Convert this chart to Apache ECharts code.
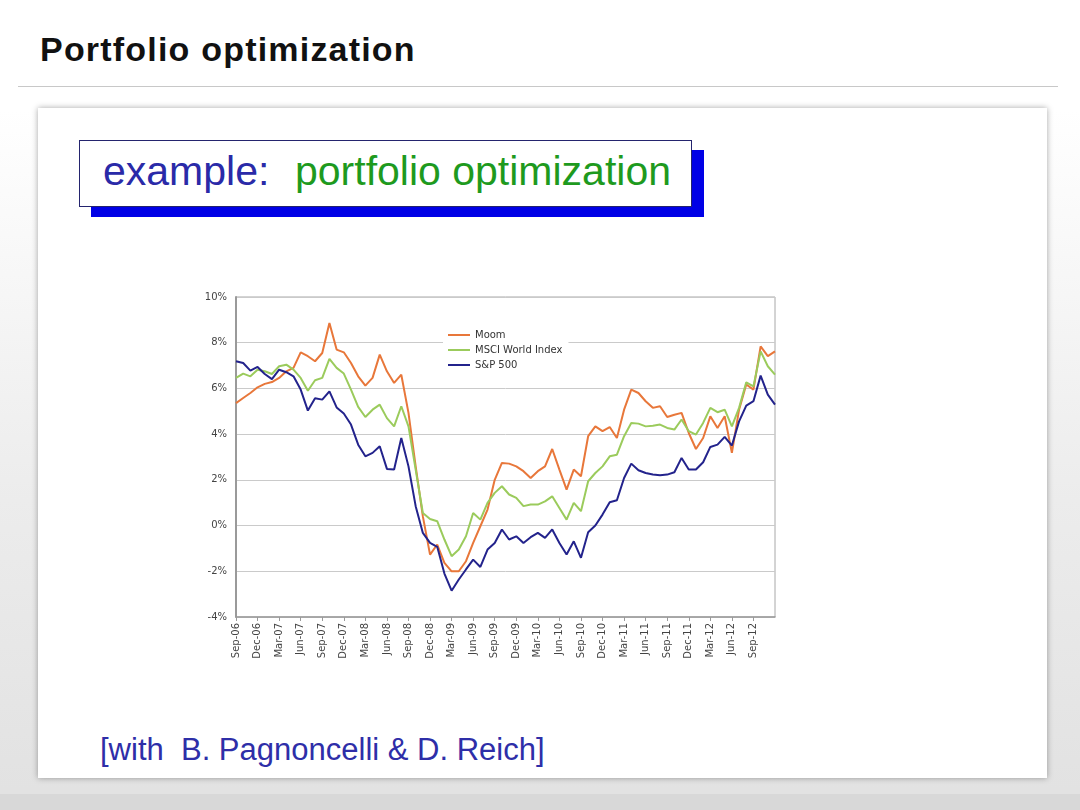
<!DOCTYPE html>
<html>
<head>
<meta charset="utf-8">
<title>Portfolio optimization</title>
<script src="https://cdn.jsdelivr.net/npm/echarts@6/dist/echarts.min.js"></script>
<style>
  html, body { margin: 0; padding: 0; }
  body {
    width: 1080px; height: 810px; overflow: hidden; position: relative;
    background: linear-gradient(to bottom, #ffffff 0px, #ffffff 110px, #ececec 500px, #e2e2e2 790px);
    font-family: 'Liberation Sans', Arial, sans-serif;
  }
  .title {
    position: absolute; left: 40px; top: 32px;
    font-size: 34px; line-height: 34px; font-weight: bold; letter-spacing: 1.2px; color: #111;
  }
  .rule { position: absolute; left: 18px; top: 86px; width: 1040px; height: 1px; background: #c8c8c8; }
  .card {
    position: absolute; left: 38px; top: 108px; width: 1009px; height: 670px;
    background: #fff; box-shadow: 0 0 6px rgba(0, 0, 0, 0.35);
  }
  .banner {
    position: absolute; left: 79px; top: 140px; width: 611px; height: 65px;
    border: 1.5px solid #24246e; background: #fff; box-shadow: 12px 10px 0 #0000e6;
  }
  .banner span { position: absolute; top: 10px; font-size: 41px; line-height: 41px; white-space: nowrap; }
  .footer {
    position: absolute; left: 100px; top: 734px;
    font-size: 31px; line-height: 31px; color: #2e2ea8; white-space: pre;
  }
  .bottom { position: absolute; left: 0; top: 794px; width: 1080px; height: 16px; background: #d8d8d8; }
  #chart { position: absolute; left: 0; top: 0; width: 1080px; height: 810px; }
</style>
</head>
<body>
<div class="title">Portfolio optimization</div>
<div class="rule"></div>
<div class="card"></div>
<div class="bottom"></div>
<div class="banner">
  <span style="left: 23px; color: #2a2aa8;">example:</span>
  <span style="left: 215px; color: #1e9a1e;">portfolio optimization</span>
</div>
<div class="footer">[with  B. Pagnoncelli &amp; D. Reich]</div>
<div id="chart"></div>
<script>
// monthly, Sep-06 .. Dec-12
const categories = [
  'Sep-06', 'Oct-06', 'Nov-06', 'Dec-06',
  'Jan-07', 'Feb-07', 'Mar-07', 'Apr-07', 'May-07', 'Jun-07', 'Jul-07', 'Aug-07', 'Sep-07', 'Oct-07', 'Nov-07', 'Dec-07',
  'Jan-08', 'Feb-08', 'Mar-08', 'Apr-08', 'May-08', 'Jun-08', 'Jul-08', 'Aug-08', 'Sep-08', 'Oct-08', 'Nov-08', 'Dec-08',
  'Jan-09', 'Feb-09', 'Mar-09', 'Apr-09', 'May-09', 'Jun-09', 'Jul-09', 'Aug-09', 'Sep-09', 'Oct-09', 'Nov-09', 'Dec-09',
  'Jan-10', 'Feb-10', 'Mar-10', 'Apr-10', 'May-10', 'Jun-10', 'Jul-10', 'Aug-10', 'Sep-10', 'Oct-10', 'Nov-10', 'Dec-10',
  'Jan-11', 'Feb-11', 'Mar-11', 'Apr-11', 'May-11', 'Jun-11', 'Jul-11', 'Aug-11', 'Sep-11', 'Oct-11', 'Nov-11', 'Dec-11',
  'Jan-12', 'Feb-12', 'Mar-12', 'Apr-12', 'May-12', 'Jun-12', 'Jul-12', 'Aug-12', 'Sep-12', 'Oct-12', 'Nov-12', 'Dec-12'
];

const moom = [
  5.36, 5.58, 5.8, 6.05, 6.2, 6.28, 6.46, 6.75, 6.9, 7.58, 7.41, 7.19, 7.55, 8.86, 7.7, 7.58, 7.11, 6.53, 6.12,
  6.46, 7.48, 6.75, 6.24, 6.6, 4.93, 2.59, 0.4, -1.27, -0.83, -1.63, -2.0, -2.0, -1.56, -0.76, -0.03, 0.7, 2.0, 2.74,
  2.71, 2.59, 2.38, 2.08, 2.38, 2.59, 3.35, 2.45, 1.57, 2.45, 2.16, 3.91, 4.34, 4.13, 4.31, 3.83, 5.07, 5.95, 5.8,
  5.44, 5.15, 5.22, 4.75, 4.85, 4.93, 4.05, 3.35, 3.83, 4.78, 4.27, 4.78, 3.18, 5.07, 6.17, 5.95, 7.84, 7.41, 7.62
];

const msci = [
  6.46, 6.65, 6.53, 6.82, 6.75, 6.63, 6.97, 7.04, 6.82, 6.46, 5.9, 6.36, 6.46, 7.29, 6.9, 6.65, 5.95, 5.19, 4.75,
  5.07, 5.29, 4.7, 4.34, 5.22, 4.34, 2.45, 0.55, 0.29, 0.19, -0.61, -1.34, -1.05, -0.47, 0.55, 0.26, 0.99, 1.43, 1.72,
  1.36, 1.21, 0.85, 0.92, 0.92, 1.06, 1.28, 0.77, 0.26, 0.99, 0.63, 1.94, 2.3, 2.59, 3.03, 3.1, 3.91, 4.49, 4.46,
  4.34, 4.37, 4.42, 4.27, 4.2, 4.64, 4.13, 3.98, 4.49, 5.15, 4.96, 5.07, 4.34, 5.15, 6.27, 6.09, 7.62, 6.97, 6.6
];

const sp500 = [
  7.19, 7.11, 6.78, 6.94, 6.63, 6.41, 6.82, 6.71, 6.53, 5.95, 5.03, 5.57, 5.51, 5.87, 5.17, 4.9, 4.42, 3.54, 3.03,
  3.18, 3.47, 2.48, 2.45, 3.83, 2.59, 0.85, -0.32, -0.76, -0.93, -2.1, -2.85, -2.36, -1.92, -1.49, -1.81, -1.05, -0.76, -0.17,
  -0.61, -0.47, -0.76, -0.51, -0.32, -0.54, -0.17, -0.76, -1.27, -0.69, -1.41, -0.29, 0.0, 0.48, 1.02, 1.11, 2.08, 2.71, 2.42,
  2.3, 2.23, 2.2, 2.23, 2.33, 2.96, 2.45, 2.45, 2.77, 3.44, 3.54, 3.88, 3.5, 4.56, 5.25, 5.44, 6.56, 5.73, 5.29
];

const seriesNames = ['Moom', 'MSCI World Index', 'S&P 500'];
const seriesColors = ['#e8773a', '#9bcb5c', '#23238c'];

// quarterly labels, last month left unlabeled
const showQuarter = (i) => i % 3 === 0 && i < categories.length - 1;

const chart = echarts.init(document.getElementById('chart'));

const makeLine = (name, values, color) => ({
  name: name,
  type: 'line',
  data: values,
  symbol: 'none',
  color: color,
  lineStyle: { color: color, width: 2 },
  animation: false
});

chart.setOption({
  backgroundColor: 'transparent',
  textStyle: { fontFamily: 'DejaVu Sans' },
  grid: {
    left: 236, right: 305, top: 297, bottom: 193,
    show: true, borderColor: '#a8a8a8', borderWidth: 1
  },
  legend: {
    data: seriesNames,
    orient: 'vertical',
    left: 443, top: 324,
    padding: [5, 6, 5, 5],
    backgroundColor: '#ffffff',
    icon: 'rect',
    itemWidth: 22, itemHeight: 2,
    itemGap: 3,
    textStyle: { fontSize: 10, lineHeight: 12, color: '#333', fontFamily: 'DejaVu Sans' }
  },
  xAxis: {
    type: 'category',
    data: categories,
    boundaryGap: false,
    axisLine: { onZero: false, lineStyle: { color: '#9a9a9a', width: 1.5 } },
    axisTick: { interval: showQuarter, length: 4, lineStyle: { color: '#9a9a9a' } },
    axisLabel: {
      interval: showQuarter, rotate: 90, margin: 6,
      fontSize: 10, color: '#444', fontFamily: 'DejaVu Sans'
    },
    splitLine: { show: false }
  },
  yAxis: {
    type: 'value',
    min: -4, max: 10, interval: 2,
    axisLine: { show: true, lineStyle: { color: '#9a9a9a', width: 2 } },
    axisTick: { show: false },
    axisLabel: {
      formatter: '{value}%', margin: 9,
      fontSize: 10, color: '#444', fontFamily: 'DejaVu Sans'
    },
    splitLine: { lineStyle: { color: '#cacaca', width: 1 } }
  },
  series: [
    makeLine(seriesNames[0], moom, seriesColors[0]),
    makeLine(seriesNames[1], msci, seriesColors[1]),
    makeLine(seriesNames[2], sp500, seriesColors[2])
  ]
});
</script>
</body>
</html>
